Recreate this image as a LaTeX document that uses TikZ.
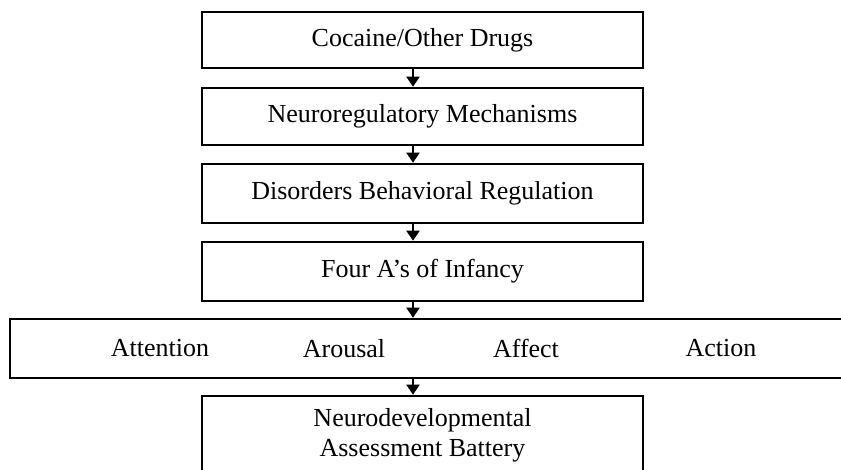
\documentclass[tikz,border=0pt]{standalone}
\usepackage{fontspec}
\setmainfont{Liberation Serif}
\usetikzlibrary{arrows.meta}

\begin{document}
\begin{tikzpicture}[x=1pt,y=-1pt,
    box/.style={draw, line width=2.6pt, minimum width=441pt, inner sep=0pt,
      align=center, font=\fontsize{26}{30}\selectfont},
    lbl/.style={font=\fontsize{26}{30}\selectfont},
    flow/.style={line width=2pt, -{Triangle[width=13pt,length=10pt]}}]
      \useasboundingbox (0,0) rectangle (841,470);
      \clip (0,0) rectangle (841,470);
      \node[box, minimum height=56pt] (drugs) at (422.5,40) {Cocaine/Other Drugs};
      \node[box, minimum height=57pt] (mech) at (422.5,116.5) {Neuroregulatory Mechanisms};
      \node[box, minimum height=59pt] (disord) at (422.5,193.5) {Disorders Behavioral Regulation};
      \node[box, minimum height=59pt] (fourA) at (422.5,271.5) {Four A's of Infancy};
      \node[box, minimum height=59pt, minimum width=860pt] (row) at (440,348.5) {};
      \node[box, minimum height=78pt] (battery) at (422.5,435)
        {Neurodevelopmental\\Assessment Battery};
      \foreach \n/\x/\t in {att/160/Attention, aro/344/Arousal,
                           aff/526/Affect, act/721/Action}
      \node[lbl] (\n) at (\x,348.5) {\t};
      \coordinate (ax) at (413,0);
      \foreach \a/\b in {drugs/mech, mech/disord, disord/fourA,
                         fourA/row, row/battery}
      \draw[flow] (\a.south -| ax) -- (\b.north -| ax);
    \end{tikzpicture}
\end{document}
